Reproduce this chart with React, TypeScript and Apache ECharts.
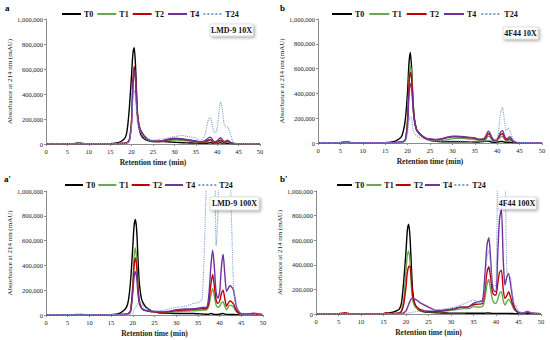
import React, { useEffect, useRef } from "react";
import * as echarts from "echarts";

// Retention time (min) sample points shared by all traces
const time = [
  0, 5, 6.5, 7.5, 9, 15, 15.5, 16.5, 17.5, 18.5,
  19, 19.5, 20, 20.3, 20.6, 20.9, 21.2, 21.5, 22, 22.5,
  23, 24, 25, 26, 27, 28, 29, 30, 31, 32,
  33, 34, 35, 36, 37, 37.5, 38, 38.4, 38.8, 39.2,
  39.6, 40, 40.4, 40.8, 41.2, 41.6, 42, 42.4, 42.8, 43.2,
  43.6, 44, 44.5, 45, 46, 47, 48, 50,
];

const seriesNames = ["T0", "T1", "T2", "T4", "T24"];
const xTicks = [0, 5, 10, 15, 20, 25, 30, 35, 40, 45, 50];
// absorbance values below are in thousands of mAU
const yMaxK = 1000;
const yStepK = 200;

// Panel a: LMD-9 10X
const aT0 = [
  3, 3, 3, 3, 3, 3, 4, 8, 20, 50,
  120, 300, 560, 720, 770, 640, 380, 180, 90, 55,
  40, 25, 20, 20, 20, 18, 16, 14, 12, 10,
  9, 8, 7, 6, 6, 6, 8, 10, 8, 5,
  5, 6, 8, 10, 8, 5, 5, 6, 5, 4,
  3, 3, 3, 3, 3, 3, 3, 3,
];
const aT1 = [
  3, 3, 3, 12, 3, 3, 3, 3, 4, 6,
  12, 40, 200, 480, 600, 520, 300, 200, 120, 90,
  65, 35, 22, 20, 22, 26, 30, 32, 30, 28,
  25, 22, 18, 12, 12, 18, 25, 28, 20, 10,
  8, 10, 18, 22, 15, 8, 12, 18, 12, 7,
  4, 3, 3, 3, 3, 3, 3, 3,
];
const aT2 = [
  3, 3, 3, 5, 3, 3, 3, 3, 4, 6,
  12, 35, 190, 500, 620, 540, 310, 200, 115, 85,
  60, 32, 22, 20, 22, 30, 36, 40, 40, 36,
  32, 28, 22, 15, 15, 22, 32, 35, 25, 12,
  10, 15, 25, 30, 22, 12, 18, 25, 18, 10,
  5, 3, 3, 3, 3, 3, 3, 3,
];
const aT4 = [
  3, 3, 3, 4, 3, 3, 3, 3, 4, 6,
  10, 30, 170, 460, 590, 520, 300, 190, 110, 80,
  55, 30, 25, 22, 25, 35, 42, 46, 45, 40,
  35, 30, 25, 18, 25, 35, 50, 55, 40, 20,
  18, 25, 40, 50, 35, 18, 25, 30, 22, 12,
  6, 4, 3, 3, 3, 3, 3, 3,
];
const aT24 = [
  3, 3, 3, 3, 3, 3, 3, 3, 3, 4,
  8, 20, 150, 350, 430, 380, 230, 150, 95, 70,
  50, 32, 30, 35, 40, 45, 52, 58, 65, 68,
  60, 55, 50, 30, 60, 130, 200, 210, 160, 100,
  90, 130, 250, 335, 280, 160, 135, 140, 110, 70,
  25, 5, 3, 3, 3, 3, 3, 3,
];

// Panel b: 4F44 10X
const bT0 = [
  3, 3, 5, 3, 3, 3, 4, 8, 20, 45,
  90, 190, 420, 640, 730, 600, 350, 200, 110, 80,
  60, 35, 22, 15, 12, 10, 10, 10, 10, 10,
  10, 9, 8, 8, 12, 15, 15, 12, 8, 6,
  6, 8, 10, 12, 12, 8, 6, 6, 6, 5,
  4, 3, 3, 3, 3, 3, 3, 3,
];
const bT1 = [
  3, 3, 5, 3, 3, 3, 3, 3, 4, 6,
  12, 30, 200, 500, 620, 560, 330, 190, 105, 85,
  65, 40, 28, 22, 20, 22, 28, 35, 38, 38,
  35, 32, 28, 20, 20, 32, 55, 48, 28, 15,
  13, 18, 35, 50, 55, 32, 18, 20, 25, 18,
  8, 4, 3, 3, 3, 3, 3, 3,
];
const bT2 = [
  3, 3, 5, 3, 3, 3, 3, 3, 4, 6,
  10, 25, 180, 460, 570, 520, 320, 190, 105, 85,
  65, 40, 30, 26, 28, 35, 45, 50, 50, 48,
  45, 42, 38, 28, 28, 45, 75, 65, 38, 20,
  18, 25, 50, 70, 75, 45, 25, 28, 35, 25,
  10, 5, 3, 3, 3, 3, 3, 3,
];
const bT4 = [
  3, 3, 8, 3, 3, 3, 3, 3, 4, 6,
  10, 20, 150, 380, 480, 440, 290, 180, 105, 85,
  65, 40, 32, 28, 30, 38, 48, 55, 55, 52,
  48, 45, 40, 30, 35, 60, 95, 80, 45, 25,
  22, 30, 60, 90, 100, 60, 35, 40, 50, 35,
  15, 7, 3, 3, 3, 3, 3, 3,
];
const bT24 = [
  3, 3, 3, 3, 3, 3, 3, 3, 3, 4,
  6, 15, 80, 180, 215, 190, 120, 80, 60, 50,
  40, 28, 20, 16, 15, 15, 16, 17, 16, 15,
  14, 13, 12, 12, 15, 18, 22, 22, 15, 12,
  15, 40, 130, 250, 285, 180, 100, 120, 100, 60,
  30, 15, 8, 4, 3, 3, 3, 3,
];

// Panel a′: LMD-9 100X
const apT0 = [
  3, 3, 3, 3, 3, 3, 4, 8, 25, 60,
  120, 280, 550, 720, 770, 680, 450, 260, 130, 90,
  65, 40, 25, 18, 15, 14, 13, 12, 12, 12,
  12, 12, 10, 8, 6, 6, 12, 8, 5, 4,
  4, 6, 10, 12, 8, 5, 5, 4, 4, 4,
  3, 3, 3, 3, 3, 3, 3, 3,
];
const apT1 = [
  3, 3, 3, 3, 3, 3, 3, 3, 4, 6,
  12, 40, 250, 470, 540, 450, 250, 120, 60, 45,
  38, 30, 25, 22, 20, 20, 22, 25, 28, 30,
  32, 34, 36, 40, 42, 70, 160, 214, 150, 80,
  62, 70, 95, 107, 70, 42, 65, 80, 75, 65,
  40, 20, 10, 6, 4, 5, 3, 3,
];
const apT2 = [
  3, 3, 3, 3, 3, 3, 3, 3, 4, 6,
  12, 35, 220, 400, 460, 390, 210, 110, 55, 40,
  35, 28, 25, 22, 22, 25, 30, 35, 38, 40,
  42, 45, 48, 50, 52, 100, 250, 327, 230, 120,
  94, 110, 170, 201, 130, 70, 95, 113, 105, 90,
  55, 30, 15, 8, 5, 6, 4, 3,
];
const apT4 = [
  3, 3, 3, 5, 3, 3, 3, 3, 4, 6,
  10, 30, 180, 310, 350, 300, 170, 90, 55, 40,
  35, 30, 28, 25, 25, 28, 35, 42, 45, 48,
  48, 50, 55, 60, 62, 150, 400, 523, 380, 180,
  134, 180, 380, 491, 330, 190, 215, 236, 225, 200,
  120, 50, 25, 12, 8, 10, 15, 3,
];
const apT24 = [
  3, 3, 3, 3, 3, 3, 3, 3, 3, 3,
  4, 5, 15, 40, 60, 80, 95, 100, 90, 70,
  55, 40, 35, 35, 38, 45, 55, 60, 65, 70,
  80, 95, 100, 130, 1100, 1300, 1400, 1400, 1400, 560,
  800, 1400, 1400, 1400, 1400, 1300, 1300, 1200, 700, 250,
  100, 70, 30, 12, 5, 3, 3, 3,
];

// Panel b′: 4F44 100X
const bpT0 = [
  3, 3, 3, 3, 3, 3, 4, 10, 20, 40,
  90, 270, 510, 680, 730, 620, 380, 180, 70, 45,
  30, 18, 15, 12, 10, 8, 8, 7, 7, 7,
  7, 6, 6, 6, 6, 6, 8, 8, 6, 5,
  5, 5, 5, 5, 5, 5, 5, 5, 5, 4,
  4, 3, 3, 3, 3, 3, 3, 3,
];
const bpT1 = [
  3, 3, 3, 3, 3, 3, 3, 3, 4, 10,
  30, 120, 350, 480, 513, 420, 230, 110, 60, 45,
  35, 25, 20, 18, 18, 20, 25, 30, 35, 40,
  45, 45, 60, 55, 60, 120, 240, 281, 200, 120,
  90, 86, 120, 170, 181, 110, 73, 100, 119, 100,
  70, 40, 20, 10, 5, 15, 5, 3,
];
const bpT2 = [
  3, 3, 10, 3, 3, 3, 10, 3, 4, 8,
  20, 80, 220, 340, 385, 389, 280, 150, 80, 55,
  40, 28, 22, 20, 20, 25, 32, 38, 45, 55,
  55, 60, 75, 80, 85, 180, 340, 384, 300, 180,
  155, 154, 250, 340, 357, 200, 127, 150, 181, 140,
  90, 50, 25, 12, 6, 18, 6, 3,
];
const bpT4 = [
  3, 3, 3, 3, 3, 3, 3, 3, 3, 4,
  5, 10, 25, 50, 80, 105, 125, 127, 120, 110,
  95, 75, 55, 38, 28, 30, 35, 40, 45, 55,
  55, 60, 86, 100, 110, 300, 560, 621, 450, 230,
  185, 181, 500, 780, 848, 450, 235, 300, 330, 250,
  150, 70, 30, 15, 8, 20, 8, 3,
];
const bpT24 = [
  3, 3, 3, 3, 3, 3, 3, 3, 3, 3,
  3, 4, 5, 6, 8, 10, 12, 15, 18, 20,
  22, 25, 28, 32, 36, 40, 45, 50, 60, 70,
  85, 100, 113, 100, 90, 200, 450, 520, 400, 250,
  230, 235, 1200, 1400, 1500, 1400, 1200, 350, 316, 300,
  180, 86, 60, 25, 10, 25, 8, 3,
];

const panelLabels = ["a", "b", "a\u2032", "b\u2032"];
const panelTags = ["LMD-9 10X", "4F44 10X", "LMD-9 100X", "4F44 100X"];
const panelData = [
  [aT0, aT1, aT2, aT4, aT24],
  [bT0, bT1, bT2, bT4, bT24],
  [apT0, apT1, apT2, apT4, apT24],
  [bpT0, bpT1, bpT2, bpT4, bpT24],
];

const COLORS = ["#000000", "#6aa84f", "#c00000", "#7030a0", "#7d9fd3"];
const SERIF = "'Liberation Serif', 'Times New Roman', serif";

const GRIDS = [
  { left: 46, top: 19, width: 214, height: 125 },
  { left: 318, top: 19, width: 224, height: 124 },
  { left: 46, top: 191, width: 217, height: 124 },
  { left: 316, top: 191, width: 225, height: 123 },
];
const LEGENDS = [
  { left: 61, top: 10, itemWidth: 19, itemGap: 3 },
  { left: 331, top: 10, itemWidth: 20, itemGap: 4 },
  { left: 64, top: 181, itemWidth: 18, itemGap: 2 },
  { left: 336, top: 181, itemWidth: 15, itemGap: 1 },
];
const LETTERS = [
  { x: 5, y: 3 },
  { x: 280, y: 3 },
  { x: 4, y: 174 },
  { x: 280, y: 174 },
];
const TAGS = [
  { x: 210, y: 24, w: 43, h: 12 },
  { x: 503, y: 27, w: 35, h: 12 },
  { x: 210, y: 197, w: 49, h: 13 },
  { x: 498, y: 197, w: 38, h: 12 },
];

function fmtY(v: number) {
  return (v * 1000).toLocaleString("en-US");
}

export default function App() {
  const ref = useRef<HTMLDivElement>(null);
  useEffect(() => {
    if (!ref.current) return;
    const chart = echarts.init(ref.current, null, { renderer: "svg" });

    const grid = GRIDS.map((g) => ({ ...g, containLabel: false }));
    const xAxis = GRIDS.map((_, i) => ({
      type: "value",
      gridIndex: i,
      min: xTicks[0],
      max: xTicks[xTicks.length - 1],
      interval: xTicks[1] - xTicks[0],
      name: "Retention time (min)",
      nameLocation: "middle",
      nameGap: 14,
      nameTextStyle: { fontFamily: SERIF, fontSize: 7.5, fontWeight: "bold", color: "#222" },
      axisLine: { lineStyle: { color: "#8c8c8c", width: 1 } },
      axisTick: { show: true, length: 2, lineStyle: { color: "#8c8c8c" } },
      axisLabel: { fontFamily: SERIF, fontSize: 6.5, color: "#222", margin: 4 },
      splitLine: { show: false },
    }));
    const yAxis = GRIDS.map((_, i) => ({
      type: "value",
      gridIndex: i,
      min: 0,
      max: yMaxK,
      interval: yStepK,
      name: "Absorbance at 214 nm (mAU)",
      nameLocation: "middle",
      nameGap: 33,
      nameTextStyle: { fontFamily: SERIF, fontSize: 7, color: "#222" },
      axisLine: { show: true, lineStyle: { color: "#8c8c8c", width: 1 } },
      axisTick: { show: true, length: 2, lineStyle: { color: "#8c8c8c" } },
      axisLabel: { fontFamily: SERIF, fontSize: 6.5, color: "#222", margin: 3, formatter: fmtY },
      splitLine: { show: false },
    }));

    const series: any[] = [];
    panelData.forEach((arrs, p) => {
      arrs.forEach((arr, k) => {
        const dotted = seriesNames[k] === "T24";
        series.push({
          type: "line",
          name: seriesNames[k],
          xAxisIndex: p,
          yAxisIndex: p,
          data: time.map((t, i) => [t, arr[i]]),
          symbol: "none",
          showSymbol: false,
          smooth: 0.25,
          clip: true,
          lineStyle: {
            color: COLORS[k],
            width: dotted ? 1.1 : 1.4,
            type: dotted ? "dotted" : "solid",
          },
          itemStyle: { color: COLORS[k] },
          z: 2 + k,
        });
      });
    });

    const legend = LEGENDS.map((l) => ({
      left: l.left,
      top: l.top,
      orient: "horizontal",
      itemWidth: l.itemWidth,
      itemHeight: 8,
      itemGap: l.itemGap,
      padding: 0,
      data: seriesNames,
      itemStyle: { opacity: 0, borderWidth: 0 },
      textStyle: { fontFamily: SERIF, fontSize: 8, fontWeight: "bold", color: "#111", padding: [0, 0, 0, -2] },
      selectedMode: false,
    }));

    const graphic: any[] = [];
    LETTERS.forEach((pos, i) => {
      graphic.push({
        type: "text",
        left: pos.x,
        top: pos.y,
        style: { text: panelLabels[i], fontFamily: SERIF, fontSize: 9, fontWeight: "bold", fill: "#000" },
      });
    });
    TAGS.forEach((tg, i) => {
      graphic.push({
        type: "rect",
        shape: { x: tg.x, y: tg.y, width: tg.w, height: tg.h },
        style: {
          fill: "#ffffff",
          stroke: "#d0d0d0",
          lineWidth: 0.6,
          shadowBlur: 3,
          shadowOffsetX: 1.5,
          shadowOffsetY: 1.5,
          shadowColor: "rgba(0,0,0,0.35)",
        },
        z: 100,
      });
      graphic.push({
        type: "text",
        x: tg.x + tg.w / 2,
        y: tg.y + tg.h / 2,
        style: {
          text: panelTags[i],
          fontFamily: SERIF,
          fontSize: 8,
          fontWeight: "bold",
          fill: "#111",
          align: "center",
          verticalAlign: "middle",
        },
        z: 101,
      });
    });

    chart.setOption({
      animation: false,
      backgroundColor: "#ffffff",
      grid,
      xAxis,
      yAxis,
      legend,
      series,
      graphic,
    });
    return () => chart.dispose();
  }, []);

  return (
    <div
      ref={ref}
      style={{ position: "fixed", left: 0, top: 0, width: 550, height: 340, background: "#fff" }}
    />
  );
}
